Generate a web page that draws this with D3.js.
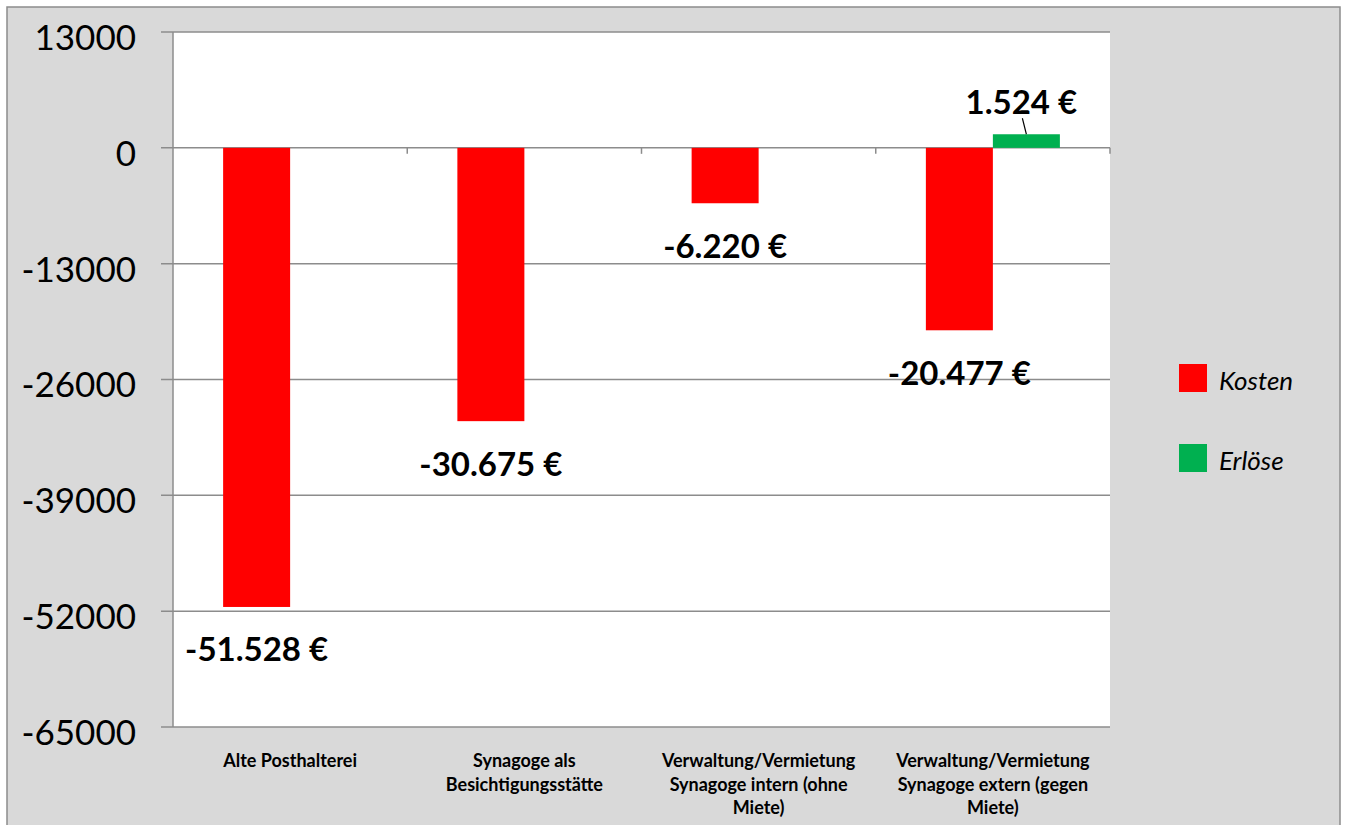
<!DOCTYPE html>
<html><head><meta charset="utf-8">
<script src="https://cdn.jsdelivr.net/npm/d3@7"></script>
<style>html,body{margin:0;padding:0;background:#fff;overflow:hidden}</style>
</head><body>
<svg id="c" width="1346" height="825"></svg>
<script>
const categories = [
  ["Alte Posthalterei"],
  ["Synagoge als", "Besichtigungsstätte"],
  ["Verwaltung/Vermietung", "Synagoge intern (ohne", "Miete)"],
  ["Verwaltung/Vermietung", "Synagoge extern (gegen", "Miete)"]
];
const seriesNames = ["Kosten", "Erlöse"];
const kosten = [-51528, -30675, -6220, -20477];
const erloese = [0, 0, 0, 1524];
const seriesColors = ["#ff0000", "#00b050"];
const yTicks = [13000, 0, -13000, -26000, -39000, -52000, -65000];

const svg = d3.select("#c");
const font = "Lato, 'Open Sans', sans-serif";
const L = 173, R = 1110, T = 32, B = 727;

svg.append("rect").attr("x", 7).attr("y", 7).attr("width", 1333).attr("height", 830)
  .attr("fill", "#d9d9d9").attr("stroke", "#8c8c8c").attr("stroke-width", 1.5);
svg.append("rect").attr("x", L).attr("y", T).attr("width", R - L).attr("height", B - T).attr("fill", "#fff");

const y = d3.scaleLinear().domain([-65000, 13000]).range([B, T]);
const x0 = d3.scaleBand().domain(d3.range(categories.length)).range([L, R]).padding(0);
const x1 = d3.scaleBand().domain(seriesNames).range([0, x0.bandwidth()]).paddingInner(0).paddingOuter(0.748);

const locale = d3.formatLocale({decimal: ",", thousands: ".", grouping: [3], currency: ["", " €"], minus: "-"});
const fmt = v => locale.format(",")(v) + " €";
const tickFmt = locale.format("d");

// gridlines
svg.append("g").selectAll("line").data(yTicks).join("line")
  .attr("x1", L - 12).attr("x2", R).attr("y1", d => y(d)).attr("y2", d => y(d))
  .attr("stroke", "#8c8c8c").attr("stroke-width", 1.5);
// y axis line
svg.append("line").attr("x1", L).attr("x2", L).attr("y1", T).attr("y2", B)
  .attr("stroke", "#8c8c8c").attr("stroke-width", 1.5);
// category tick marks on zero line
svg.append("g").selectAll("line").data(d3.range(1, categories.length + 1)).join("line")
  .attr("x1", d => L + d * x0.bandwidth()).attr("x2", d => L + d * x0.bandwidth())
  .attr("y1", y(0)).attr("y2", y(0) + 6).attr("stroke", "#8c8c8c").attr("stroke-width", 1.5);

// y tick labels
svg.append("g").selectAll("text").data(yTicks).join("text")
  .attr("x", 136).attr("y", d => y(d) + 9).attr("text-anchor", "end").attr("dominant-baseline", "middle")
  .attr("font-family", font).attr("font-size", 35).attr("fill", "#000").text(d => tickFmt(d));

// bars
const rows = categories.map((c, i) => ({i, vals: [kosten[i], erloese[i]]}));
const g = svg.append("g");
rows.forEach(r => {
  r.vals.forEach((v, k) => {
    if (v === 0) return;
    const xx = x0(r.i) + x1(seriesNames[k]);
    g.append("rect").attr("x", xx).attr("width", x1.bandwidth())
      .attr("y", Math.min(y(v), y(0))).attr("height", Math.abs(y(v) - y(0)))
      .attr("fill", seriesColors[k]);
  });
});

// data labels
rows.forEach(r => {
  r.vals.forEach((v, k) => {
    if (v === 0) return;
    const cx = x0(r.i) + x1(seriesNames[k]) + x1.bandwidth() / 2;
    if (v < 0) {
      g.append("text").attr("x", cx).attr("y", y(v) + 46).attr("dominant-baseline", "middle")
        .attr("text-anchor", "middle").attr("font-family", font).attr("font-weight", "bold")
        .attr("font-size", 33).text(fmt(v));
    } else {
      g.append("line").attr("x1", cx).attr("y1", y(v)).attr("x2", cx - 4).attr("y2", y(v) - 16)
        .attr("stroke", "#000").attr("stroke-width", 1.2);
      g.append("text").attr("x", cx - 5).attr("y", y(v) - 29).attr("dominant-baseline", "middle")
        .attr("text-anchor", "middle").attr("font-family", font).attr("font-weight", "bold")
        .attr("font-size", 33).text(fmt(v));
    }
  });
});

// category labels
categories.forEach((lines, i) => {
  const t = svg.append("text").attr("text-anchor", "middle").attr("font-family", font)
    .attr("font-weight", "bold").attr("font-size", 18).attr("fill", "#000");
  lines.forEach((ln, j) => {
    t.append("tspan").attr("x", x0(i) + x0.bandwidth() / 2).attr("y", 767 + j * 23.5).text(ln);
  });
});

// legend
seriesNames.forEach((s, k) => {
  const ly = 378 + k * 80;
  svg.append("rect").attr("x", 1179).attr("y", ly - 14).attr("width", 28).attr("height", 28).attr("fill", seriesColors[k]);
  svg.append("text").attr("x", 1219).attr("y", ly + 5).attr("dominant-baseline", "middle")
    .attr("font-family", font).attr("font-style", "italic").attr("font-size", 26).text(s);
});
</script>
</body></html>
